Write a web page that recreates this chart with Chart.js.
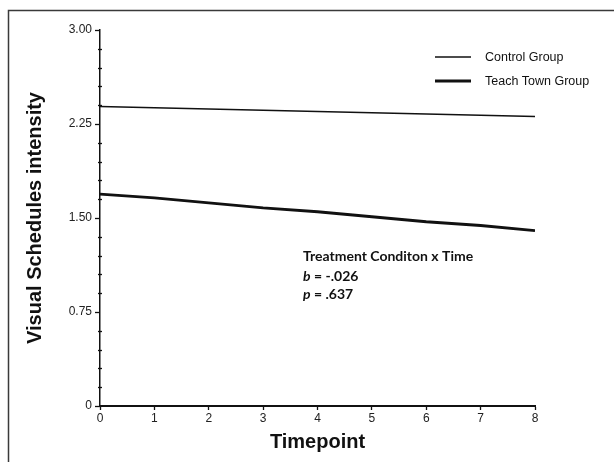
<!DOCTYPE html>
<html>
<head>
<meta charset="utf-8">
<title>Visual Schedules intensity</title>
<script src="https://cdn.jsdelivr.net/npm/chart.js@4/dist/chart.umd.min.js"></script>
<style>
  html, body { margin: 0; padding: 0; background: #fff; }
  #wrap { width: 614px; height: 462px; position: relative; }
</style>
</head>
<body>
<div id="wrap"><canvas id="chart" width="614" height="462"></canvas></div>
<script>
/* ======================
DATA
====================== */

const timepoints = [0, 1, 2, 3, 4, 5, 6, 7, 8];
const controlGroup = [2.39, 2.38, 2.37, 2.36, 2.35, 2.34, 2.33, 2.32, 2.31];
const teachTownGroup = [1.69, 1.66, 1.62, 1.58, 1.55, 1.51, 1.47, 1.44, 1.40];
const seriesLabels = ["Control Group", "Teach Town Group"];
const yLabelTicks = [0, 0.75, 1.5, 2.25, 3];
const noteLines = ["Treatment Conditon x Time", "b = -.026", "p = .637"];

const FONT = "'Liberation Sans', Arial, sans-serif";
const NOTE_FONT = "14px Lato, 'Open Sans', sans-serif";

function toPoints(values) {
  return timepoints.map((t, i) => ({ x: t, y: values[i] }));
}

function isLabelTick(v) {
  return yLabelTicks.some((t) => Math.abs(t - v) < 1e-6);
}

/* ======================
PLUGINS
====================== */

// outer frame of the figure panel
const framePlugin = {
  id: "frame",
  beforeDraw(chart) {
    const ctx = chart.ctx;
    ctx.save();
    ctx.strokeStyle = "#3a3a3a";
    ctx.lineWidth = 1.5;
    ctx.beginPath();
    ctx.moveTo(8.5, chart.height + 2);
    ctx.lineTo(8.5, 10.5);
    ctx.lineTo(chart.width + 2, 10.5);
    ctx.stroke();
    ctx.restore();
  },
};

// y tick marks: majors point left, minors cross the axis
const yTicksPlugin = {
  id: "yTicks",
  afterDraw(chart) {
    const y = chart.scales.y;
    const ctx = chart.ctx;
    const x0 = y.right;
    ctx.save();
    ctx.strokeStyle = "#111";
    ctx.lineWidth = 1.3;
    y.ticks.forEach((t) => {
      const py = Math.round(y.getPixelForValue(t.value)) + 0.5;
      ctx.beginPath();
      if (isLabelTick(t.value)) {
        ctx.moveTo(x0 - 5, py);
        ctx.lineTo(x0, py);
      } else {
        ctx.moveTo(x0 - 2, py);
        ctx.lineTo(x0 + 2, py);
      }
      ctx.stroke();
    });
    ctx.restore();
  },
};

// legend in the upper right
const legendPlugin = {
  id: "legendBox",
  afterDraw(chart) {
    const ctx = chart.ctx;
    ctx.save();
    ctx.font = "12.5px " + FONT;
    ctx.textBaseline = "middle";
    ctx.fillStyle = "#111";
    chart.data.datasets.forEach((ds, i) => {
      const ly = 57 + i * 24;
      ctx.strokeStyle = ds.borderColor;
      ctx.lineWidth = ds.borderWidth;
      ctx.beginPath();
      ctx.moveTo(435, ly);
      ctx.lineTo(471, ly);
      ctx.stroke();
      ctx.fillText(ds.label, 485, ly + 1);
    });
    ctx.restore();
  },
};

// statistics note
const notePlugin = {
  id: "note",
  afterDraw(chart) {
    const ctx = chart.ctx;
    ctx.save();
    ctx.fillStyle = "#111";
    ctx.textBaseline = "middle";
    const x = 303;
    ctx.font = "bold " + NOTE_FONT;
    ctx.fillText(noteLines[0], x, 256);
    [noteLines[1], noteLines[2]].forEach((line, i) => {
      const ly = 276 + i * 18;
      const letter = line.charAt(0);
      ctx.font = "italic bold " + NOTE_FONT;
      ctx.fillText(letter, x, ly);
      const w = ctx.measureText(letter).width;
      ctx.font = "bold " + NOTE_FONT;
      ctx.fillText(line.slice(1), x + w, ly);
    });
    ctx.restore();
  },
};

/* ======================
CHART
====================== */

new Chart(document.getElementById("chart"), {
  type: "line",
  data: {
    datasets: [
      {
        label: seriesLabels[0],
        data: toPoints(controlGroup),
        borderColor: "#111",
        borderWidth: 1.4,
        pointRadius: 0,
        tension: 0,
      },
      {
        label: seriesLabels[1],
        data: toPoints(teachTownGroup),
        borderColor: "#111",
        borderWidth: 2.8,
        pointRadius: 0,
        tension: 0,
      },
    ],
  },
  options: {
    responsive: false,
    animation: false,
    layout: { padding: { left: 0, top: 30, right: 79, bottom: 0 } },
    plugins: {
      legend: { display: false },
      tooltip: { enabled: false },
    },
    scales: {
      x: {
        type: "linear",
        min: 0,
        max: 8,
        afterFit(scale) { scale.height = 56; },
        border: { display: true, color: "#111", width: 2 },
        grid: { drawOnChartArea: false, drawTicks: true, tickLength: 4, tickColor: "#111", tickWidth: 1.3 },
        ticks: {
          stepSize: 1,
          padding: 1,
          color: "#222",
          font: { family: FONT, size: 12 },
          maxRotation: 0,
        },
        title: {
          display: true,
          text: "Timepoint",
          color: "#111",
          font: { family: FONT, size: 20, weight: "bold" },
          padding: { top: 8, bottom: 8 },
        },
      },
      y: {
        min: 0,
        max: 3,
        afterFit(scale) { scale.width = 100; },
        border: { display: true, color: "#111", width: 1.5 },
        grid: { display: false, drawTicks: false },
        ticks: {
          stepSize: 0.15,
          padding: 8,
          color: "#222",
          font: { family: FONT, size: 12 },
          autoSkip: false,
          callback(value) {
            if (!isLabelTick(value)) return "";
            return value === 0 ? "0" : Number(value).toFixed(2);
          },
        },
        title: {
          display: true,
          text: "Visual Schedules intensity",
          color: "#111",
          font: { family: FONT, size: 20, weight: "bold" },
          padding: { top: 23, bottom: 0 },
        },
      },
    },
  },
  plugins: [framePlugin, yTicksPlugin, legendPlugin, notePlugin],
});
</script>
</body>
</html>
